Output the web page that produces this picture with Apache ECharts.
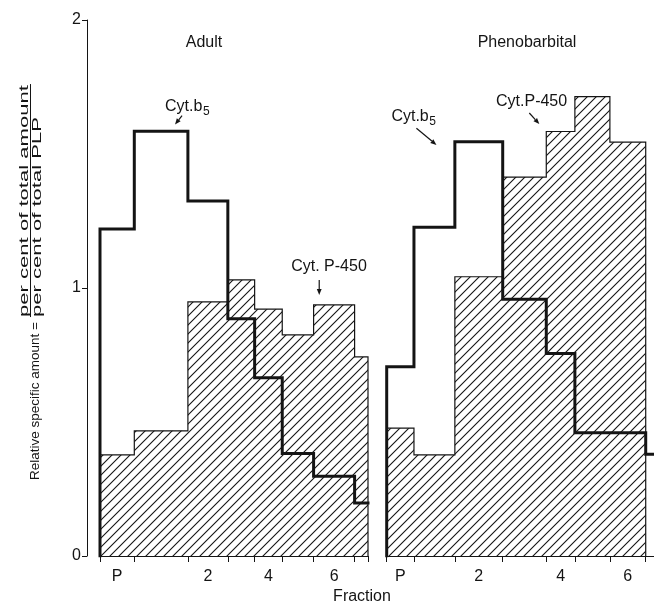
<!DOCTYPE html>
<html>
<head>
<meta charset="utf-8">
<script src="https://cdn.jsdelivr.net/npm/echarts@6/dist/echarts.min.js"></script>
<style>
  html, body { margin: 0; padding: 0; background: #fff; }
  #chart { width: 654px; height: 610px; }
</style>
</head>
<body>
<div id="chart"></div>
<script>
// Subcellular fractions; bar widths are the share (%) of total PLP in each fraction
const fractions = ['P', '1', '2', '3', '4', '5', '6', '7'];
const adultWidths = [12.8, 20.0, 14.9, 10.0, 10.3, 11.7, 15.3, 5.0];
const adultB5 = [1.22, 1.585, 1.325, 0.885, 0.665, 0.382, 0.298, 0.198];
const adultP450 = [0.377, 0.467, 0.948, 1.03, 0.921, 0.825, 0.937, 0.743];
const phenoWidths = [10.2, 15.3, 17.9, 16.3, 10.7, 13.1, 13.4, 3.1];
const phenoB5 = [0.706, 1.227, 1.546, 0.958, 0.756, 0.46, 0.46, 0.38];
const phenoP450 = [0.477, 0.377, 1.042, 1.414, 1.584, 1.714, 1.544];
const labelledFractions = ['P', '2', '4', '6'];
const yTicks = [0, 1, 2];

const INK = '#141414';
const FAMILY = '"Liberation Sans", Arial, sans-serif';

function edgesOf(widths) {
  const e = [0];
  widths.forEach(w => e.push(+(e[e.length - 1] + w).toFixed(4)));
  return e;
}
function centresOf(widths, names) {
  const e = edgesOf(widths);
  return names.map(n => {
    const i = fractions.indexOf(n);
    return +((e[i] + e[i + 1]) / 2).toFixed(4);
  });
}
// Step outline of a variable-width histogram
function outline(widths, values, dropAtEnd) {
  const e = edgesOf(widths);
  const pts = [[e[0], 0]];
  values.forEach((v, i) => { pts.push([e[i], v]); pts.push([e[i + 1], v]); });
  if (dropAtEnd) pts.push([e[values.length], 0]);
  return pts;
}
// Diagonal hatching tile
function hatchTile() {
  const s = 9;
  const c = document.createElement('canvas');
  c.width = s; c.height = s;
  const g = c.getContext('2d');
  g.strokeStyle = INK; g.lineWidth = 1.1;
  g.beginPath();
  g.moveTo(-1, s + 1); g.lineTo(s + 1, -1);
  g.moveTo(-1, 1); g.lineTo(1, -1);
  g.moveTo(s - 1, s + 1); g.lineTo(s + 1, s - 1);
  g.stroke();
  return c;
}
const hatch = { image: hatchTile(), repeat: 'repeat' };

function xAxisFor(gridIndex, widths) {
  const ticks = edgesOf(widths);
  const centres = centresOf(widths, labelledFractions);
  return {
    gridIndex, type: 'value', min: 0, max: 100,
    axisLine: { show: true, onZero: false, lineStyle: { color: INK, width: 1 } },
    axisTick: { show: true, customValues: ticks, length: 6, lineStyle: { color: INK, width: 1 } },
    axisLabel: {
      customValues: centres, margin: 13, color: INK, fontSize: 16, fontFamily: FAMILY,
      formatter: v => {
        let best = 0;
        centres.forEach((c, i) => { if (Math.abs(c - v) < Math.abs(centres[best] - v)) best = i; });
        return labelledFractions[best];
      }
    },
    splitLine: { show: false }
  };
}

function p450Series(xi, widths, values, drop) {
  return {
    type: 'line', xAxisIndex: xi, yAxisIndex: xi, data: outline(widths, values, drop),
    symbol: 'none', z: 2, silent: true,
    lineStyle: { color: INK, width: 1.2, join: 'miter' },
    areaStyle: { color: hatch, opacity: 1 }
  };
}
function b5Series(xi, widths, values) {
  return {
    type: 'line', xAxisIndex: xi, yAxisIndex: xi, data: outline(widths, values, false),
    symbol: 'none', z: 3, silent: true,
    lineStyle: { color: INK, width: 3, join: 'miter', cap: 'square' }
  };
}

const chart = echarts.init(document.getElementById('chart'));
chart.setOption({
  animation: false,
  backgroundColor: '#fff',
  grid: [
    { left: 100, top: 20, width: 268, height: 536 },
    { left: 386.7, top: 20, width: 268.3, height: 536 }
  ],
  xAxis: [xAxisFor(0, adultWidths), xAxisFor(1, phenoWidths)],
  yAxis: [
    {
      gridIndex: 0, type: 'value', min: yTicks[0], max: yTicks[yTicks.length - 1], interval: 1, offset: 13,
      axisLine: { show: true, onZero: false, lineStyle: { color: INK, width: 1 } },
      axisTick: { show: true, length: 5, lineStyle: { color: INK, width: 1 } },
      axisLabel: { margin: 6, color: INK, fontSize: 16, fontFamily: FAMILY },
      splitLine: { show: false }
    },
    { gridIndex: 1, type: 'value', min: 0, max: 2, show: false }
  ],
  series: [
    p450Series(0, adultWidths, adultP450, true),
    b5Series(0, adultWidths, adultB5),
    p450Series(1, phenoWidths, phenoP450, true),
    b5Series(1, phenoWidths, phenoB5)
  ]
});

// ---- annotations ----
function txt(x, y, text, size, align, extra) {
  return Object.assign({
    type: 'text', x, y, silent: true,
    style: {
      text, fill: INK, font: size + 'px ' + FAMILY,
      textAlign: align || 'left', align: align || 'left',
      textVerticalAlign: 'middle', verticalAlign: 'middle'
    }
  }, extra || {});
}
function arrow(tip, tail) {
  const dx = tip[0] - tail[0], dy = tip[1] - tail[1];
  const L = Math.hypot(dx, dy), ux = dx / L, uy = dy / L;
  const h = 6, w = 2.4;
  const bx = tip[0] - ux * h, by = tip[1] - uy * h;
  return [
    { type: 'line', silent: true, shape: { x1: tail[0], y1: tail[1], x2: bx, y2: by },
      style: { stroke: INK, lineWidth: 1.2 } },
    { type: 'polygon', silent: true,
      shape: { points: [tip, [bx - uy * w, by + ux * w], [bx + uy * w, by - ux * w]] },
      style: { fill: INK } }
  ];
}
// callout: main text, optional subscript; arrow tip given in data coordinates of its panel
const callouts = [
  { grid: 0, tip: [28.0, 1.61], tail: [7, -9], text: 'Cyt.b', sub: '5', at: [-10, -18] },
  { grid: 0, tip: [81.8, 0.974], tail: [0, -15], text: 'Cyt. P-450', at: [-28, -28] },
  { grid: 1, tip: [18.6, 1.534], tail: [-20, -16.7], text: 'Cyt.b', sub: '5', at: [-45, -28] },
  { grid: 1, tip: [57.1, 1.612], tail: [-10, -11], text: 'Cyt.P-450', at: [-43.3, -22.5] }
];
const measure = document.createElement('canvas').getContext('2d');
function widthOf(text, size) { measure.font = size + 'px ' + FAMILY; return measure.measureText(text).width; }

const graphics = [];
callouts.forEach(c => {
  const tip = chart.convertToPixel({ gridIndex: c.grid }, c.tip);
  const tail = [tip[0] + c.tail[0], tip[1] + c.tail[1]];
  graphics.push(...arrow(tip, tail));
  const tx = tip[0] + c.at[0], ty = tip[1] + c.at[1];
  graphics.push(txt(tx, ty, c.text, 16));
  if (c.sub) graphics.push(txt(tx + widthOf(c.text, 16) + 0.5, ty + 5, c.sub, 12));
});

// panel titles and x-axis name
graphics.push(txt(204, 43, 'Adult', 16, 'center'));
graphics.push(txt(527, 43, 'Phenobarbital', 16, 'center'));
graphics.push(txt(362, 597, 'Fraction', 16, 'center'));

// y-axis name: "Relative specific amount = (per cent of total amount)/(per cent of total PLP)"
// group rotated a quarter turn: local x runs up the page, local y equals page x
(function () {
  const size = 13.5;
  const main = 'Relative specific amount =';
  const num = 'per cent of total amount';
  const den = 'per cent of total PLP';
  const fx = widthOf(main, size) + 5;
  const stretch = 232 / widthOf(num, size);
  const bar = widthOf(num, size) * stretch + 1;
  graphics.push({
    type: 'group', x: 0, y: 480, rotation: Math.PI / 2, silent: true,
    children: [
      txt(0, 35.5, main, size),
      txt(fx, 24, num, size, 'left', { scaleX: stretch }),
      { type: 'line', shape: { x1: fx, y1: 30.5, x2: fx + bar, y2: 30.5 }, style: { stroke: INK, lineWidth: 1 } },
      txt(fx, 37, den, size, 'left', { scaleX: stretch })
    ]
  });
})();

chart.setOption({ graphic: { elements: graphics } });
</script>
</body>
</html>
